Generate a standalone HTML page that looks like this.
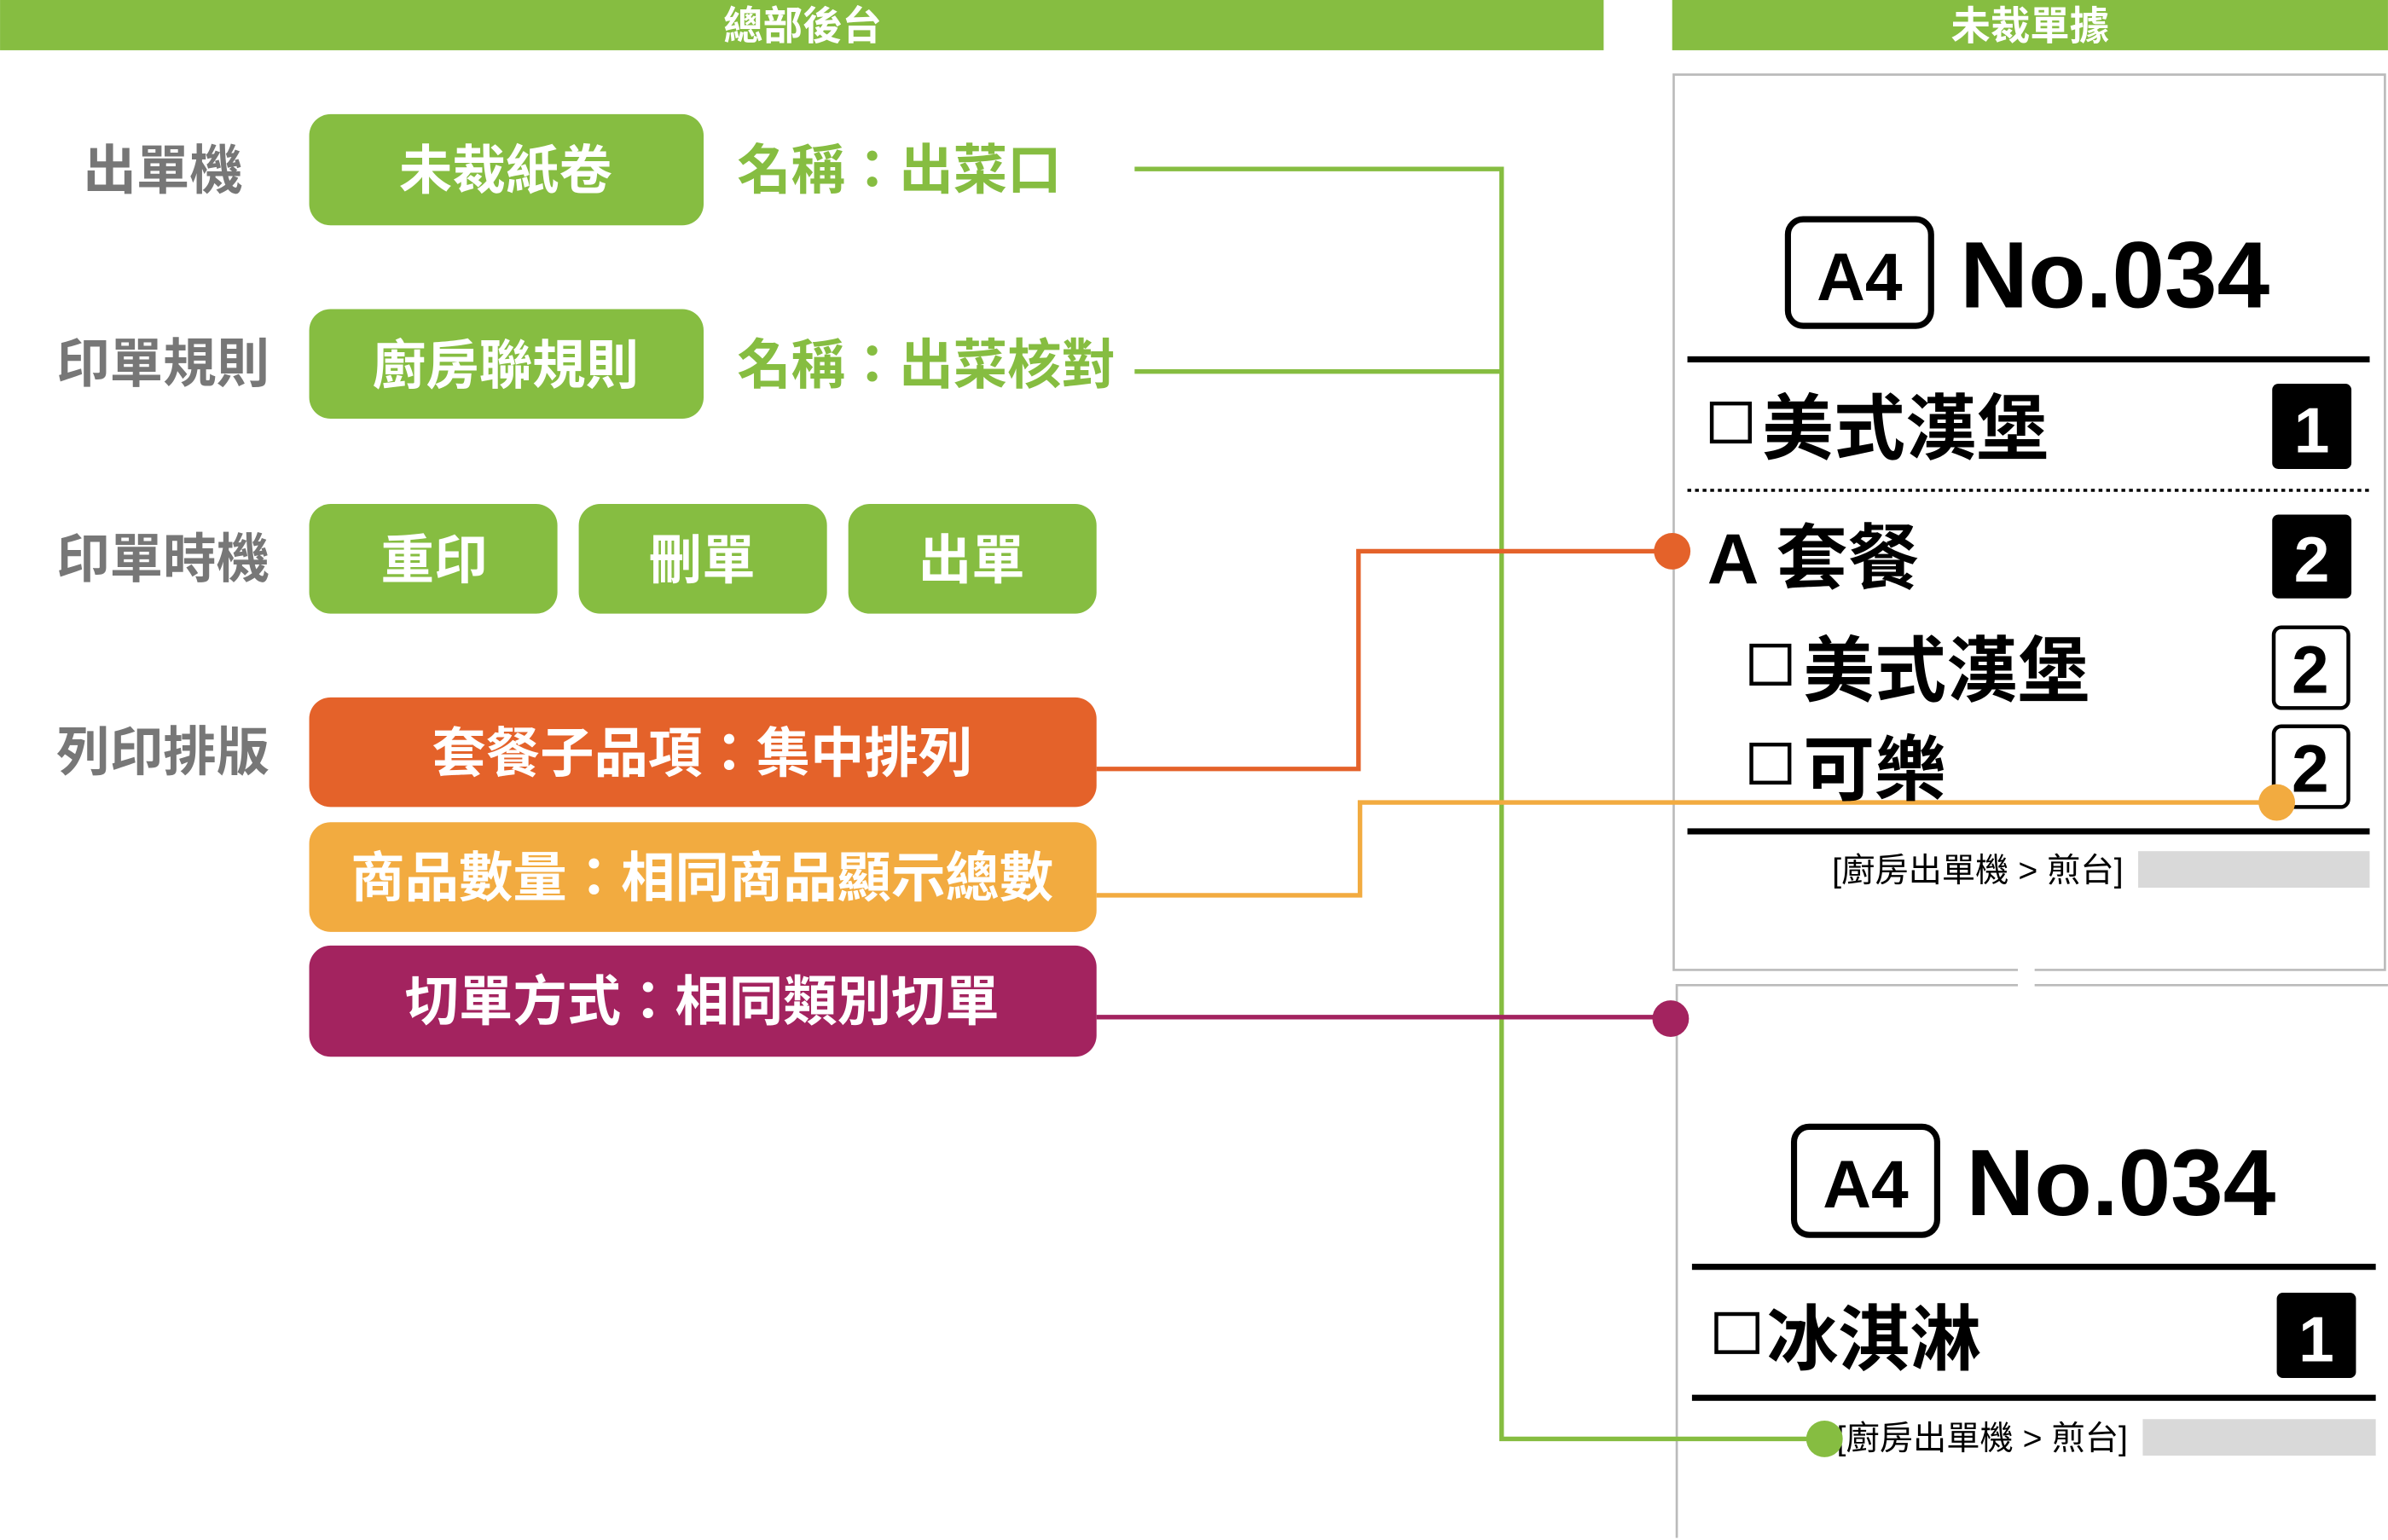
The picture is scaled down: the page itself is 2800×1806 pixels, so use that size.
<!DOCTYPE html>
<html><head><meta charset="utf-8"><style>
html,body{margin:0;padding:0;background:#fff;}
svg{display:block;}
text{font-family:"Liberation Sans","Noto Sans CJK TC",sans-serif;font-weight:bold;}
</style></head><body>
<svg width="2800" height="1806" viewBox="0 0 1568 1011.4" xmlns="http://www.w3.org/2000/svg">
<rect width="1568" height="1012" fill="#fff"/>
<rect x="0" y="0" width="1053" height="33" fill="#86bd41"/>
<text x="527" y="26" font-size="26" fill="#fff" text-anchor="middle">總部後台</text>
<rect x="1098" y="0" width="470" height="33" fill="#86bd41"/>
<text x="1333" y="26" font-size="26" fill="#fff" text-anchor="middle">未裁單據</text>
<path d="M1325 637 H1099 V49 H1566 V637 H1336" fill="none" stroke="#bbb" stroke-width="1.5"/>
<path d="M1325 647 H1101 V1010 M1336 647 H1568" fill="none" stroke="#bbb" stroke-width="1.5"/>
<g font-size="35" fill="#777" text-anchor="middle">
<text x="107" y="124">出單機</text>
<text x="107" y="251">印單規則</text>
<text x="107" y="379">印單時機</text>
<text x="107" y="506">列印排版</text>
</g>
<g fill="#86bd41">
<rect x="203" y="75" width="259" height="73" rx="14"/>
<rect x="203" y="203" width="259" height="72" rx="14"/>
<rect x="203" y="331" width="163" height="72" rx="14"/>
<rect x="380" y="331" width="163" height="72" rx="14"/>
<rect x="557" y="331" width="163" height="72" rx="14"/>
</g>
<g font-size="35" fill="#fff" text-anchor="middle">
<text x="332" y="124">未裁紙卷</text>
<text x="332" y="252">廚房聯規則</text>
<text x="285" y="380">重印</text>
<text x="461" y="380">刪單</text>
<text x="638" y="380">出單</text>
</g>
<g font-size="35.5" fill="#86bd41">
<text x="484" y="124">名稱：出菜口</text>
<text x="484" y="252">名稱：出菜核對</text>
</g>
<rect x="203" y="458" width="517" height="72" rx="14" fill="#e4622a"/>
<rect x="203" y="540" width="517" height="72" rx="14" fill="#f2ab40"/>
<rect x="203" y="621" width="517" height="73" rx="14" fill="#a3235f"/>
<g font-size="35.5" fill="#fff" text-anchor="middle">
<text x="461" y="507">套餐子品項：集中排列</text>
<text x="461" y="589">商品數量：相同商品顯示總數</text>
<text x="461" y="670">切單方式：相同類別切單</text>
</g>
<path d="M745 111 H986 V945 H1198 M745 244 H986" fill="none" stroke="#86bd41" stroke-width="3"/>
<path d="M720 505 H892 V362 H1098" fill="none" stroke="#e4622a" stroke-width="3"/>
<path d="M720 588 H893 V527 H1495" fill="none" stroke="#f2ab40" stroke-width="3"/>
<path d="M720 668 H1097" fill="none" stroke="#a3235f" stroke-width="3"/>
<rect x="1174" y="144" width="94" height="70" rx="10" fill="none" stroke="#000" stroke-width="4"/>
<text x="1221" y="197" font-size="44" text-anchor="middle" fill="#000">A4</text>
<text x="1287" y="202" font-size="62" fill="#000">No.034</text>
<rect x="1108" y="234" width="448" height="4" fill="#000"/>
<rect x="1124" y="265" width="25" height="25" fill="none" stroke="#000" stroke-width="2.5"/>
<text x="1157" y="298" font-size="47" fill="#000">美式漢堡</text>
<rect x="1492" y="252" width="52" height="56" rx="4" fill="#000"/>
<text x="1518" y="297" font-size="42" fill="#fff" text-anchor="middle">1</text>
<line x1="1108" y1="322" x2="1556" y2="322" stroke="#000" stroke-width="2" stroke-dasharray="2.5 2.5"/>
<text x="1121" y="383" font-size="47" fill="#000">A 套餐</text>
<rect x="1492" y="338" width="52" height="55" rx="4" fill="#000"/>
<text x="1518" y="382" font-size="42" fill="#fff" text-anchor="middle">2</text>
<rect x="1150" y="424" width="25" height="25" fill="none" stroke="#000" stroke-width="2.5"/>
<text x="1184" y="457" font-size="47" fill="#000">美式漢堡</text>
<rect x="1493" y="412" width="49" height="53" rx="5" fill="none" stroke="#000" stroke-width="2.5"/>
<text x="1517" y="455" font-size="44" fill="#000" text-anchor="middle">2</text>
<rect x="1150" y="489" width="25" height="25" fill="none" stroke="#000" stroke-width="2.5"/>
<text x="1184" y="522" font-size="47" fill="#000">可樂</text>
<rect x="1493" y="477" width="49" height="53" rx="5" fill="none" stroke="#000" stroke-width="2.5"/>
<text x="1517" y="520" font-size="44" fill="#000" text-anchor="middle">2</text>
<rect x="1108" y="544" width="448" height="4" fill="#000"/>
<text x="1203" y="579" font-size="22" style="font-weight:normal" fill="#000">[廚房出單機 &gt; 煎台]</text>
<rect x="1404" y="559" width="152" height="24" fill="#d9d9d9"/>
<rect x="1178" y="740" width="94" height="71" rx="10" fill="none" stroke="#000" stroke-width="4"/>
<text x="1225" y="793" font-size="44" text-anchor="middle" fill="#000">A4</text>
<text x="1291" y="798" font-size="62" fill="#000">No.034</text>
<rect x="1111" y="830" width="449" height="4" fill="#000"/>
<rect x="1127" y="863" width="27" height="25" fill="none" stroke="#000" stroke-width="2.5"/>
<text x="1160" y="896" font-size="47" fill="#000">冰淇淋</text>
<rect x="1495" y="849" width="52" height="56" rx="4" fill="#000"/>
<text x="1521" y="894" font-size="42" fill="#fff" text-anchor="middle">1</text>
<rect x="1111" y="916" width="449" height="4" fill="#000"/>
<text x="1206" y="952" font-size="22" style="font-weight:normal" fill="#000">[廚房出單機 &gt; 煎台]</text>
<rect x="1407" y="932" width="153" height="24" fill="#d9d9d9"/>
<circle cx="1098" cy="362" r="12" fill="#e4622a"/>
<circle cx="1495" cy="527" r="12" fill="#f2ab40"/>
<circle cx="1097" cy="669" r="12" fill="#a3235f"/>
<circle cx="1198" cy="945" r="12" fill="#86bd41"/>
</svg>
</body></html>
